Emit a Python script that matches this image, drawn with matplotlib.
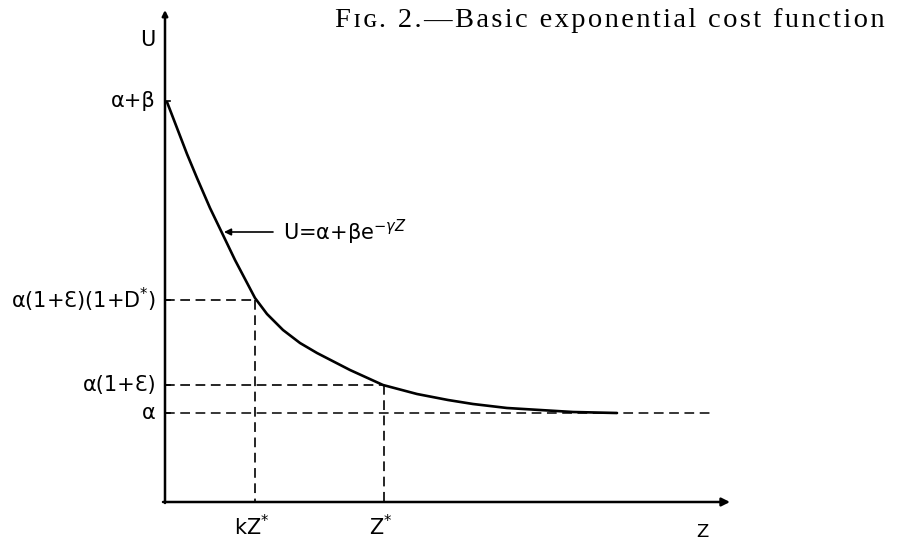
import matplotlib
matplotlib.use("Agg")
import matplotlib.pyplot as plt

plt.rcParams['mathtext.fontset'] = 'dejavusans'
plt.rcParams['lines.scale_dashes'] = False

# curve (Z, U) in arbitrary units
curve_z = [0.2, 1.2, 2.2, 3.2, 4.5, 5.8, 7.0, 8.0, 9.0, 10.2, 11.8, 13.5,
           15.2, 18.5, 21.8, 25.2, 28.3, 30.8, 34.2, 37.5, 40.8, 45.2]
curve_u = [40.0, 37.4, 34.8, 32.4, 29.4, 26.7, 24.2, 22.3, 20.4, 18.8, 17.2,
           15.9, 14.9, 13.2, 11.7, 10.8, 10.2, 9.8, 9.4, 9.2, 9.0, 8.9]

# marked levels on the U axis
u_levels = [40.1, 20.2, 11.7, 8.9]
u_labels = ['α+β', 'α(1+Ɛ)(1+D$^{*}$)', 'α(1+Ɛ)', 'α']

# marked points on the Z axis
z_marks = [9.0, 21.9]
z_labels = ['kZ$^{*}$', 'Z$^{*}$']

z_axis_end = 56.5
u_axis_top = 49.2
alpha_line_end = 54.7

caption = 'Fɪɢ. 2.—Basic exponential cost function'

fig = plt.figure(figsize=(9.17, 5.44), dpi=100)
ax = fig.add_axes([0, 0, 1, 1])
ax.set_xlim(-16.5, 75.2)
ax.set_ylim(-4.2, 50.2)
ax.axis('off')

# axes with arrows
ax.annotate('', xy=(z_axis_end, 0), xytext=(-0.2, 0),
            arrowprops=dict(arrowstyle='-|>', color='black', lw=1.8,
                            mutation_scale=12, shrinkA=0, shrinkB=0))
ax.annotate('', xy=(0, u_axis_top), xytext=(0, -0.1),
            arrowprops=dict(arrowstyle='-|>', color='black', lw=1.8,
                            mutation_scale=8, shrinkA=0, shrinkB=0))

# the cost curve
ax.plot(curve_z, curve_u, color='black', lw=1.9, solid_capstyle='round',
        solid_joinstyle='round')

# dashed guides
dash = (0, (7, 4))
ax.plot([0, z_marks[0]], [u_levels[1], u_levels[1]], color='black', lw=1.2, linestyle=dash)
ax.plot([z_marks[0], z_marks[0]], [u_levels[1], 0], color='black', lw=1.2, linestyle=dash)
ax.plot([0, z_marks[1]], [u_levels[2], u_levels[2]], color='black', lw=1.2, linestyle=dash)
ax.plot([z_marks[1], z_marks[1]], [u_levels[2], 0], color='black', lw=1.2, linestyle=dash)
ax.plot([0, alpha_line_end], [u_levels[3], u_levels[3]], color='black', lw=1.1, linestyle=dash)

# tick marks on U axis
for lev in u_levels:
    ax.plot([0, 0.5], [lev, lev], color='black', lw=1.2)

# labels on U axis
for lev, lab in zip(u_levels, u_labels):
    ax.text(-0.9, lev, lab, ha='right', va='center', fontsize=15)
ax.text(-0.9, 46.2, 'U', ha='right', va='center', fontsize=15)

# labels on Z axis
for zm, lab in zip(z_marks, z_labels):
    ax.text(zm - 0.3, -2.5, lab, ha='center', va='center', fontsize=15)
ax.text(53.7, -3.0, 'Z', ha='center', va='center', fontsize=13)

# formula with arrow
ax.annotate('', xy=(5.9, 27.0), xytext=(10.8, 27.0),
            arrowprops=dict(arrowstyle='-|>', color='black', lw=1.2,
                            mutation_scale=10, shrinkA=0, shrinkB=0))
ax.text(11.8, 27.0, r'U=α+βe$^{-\gamma Z}$', ha='left',
        va='center', fontsize=15)

# caption, letter-spaced like the print
spaced = '\u200a'.join(caption)
fig.text(0.365, 0.963, spaced, ha='left', va='center', fontsize=20.5,
         family=['Liberation Serif', 'DejaVu Serif'])

fig.savefig('out.png', dpi=100)
